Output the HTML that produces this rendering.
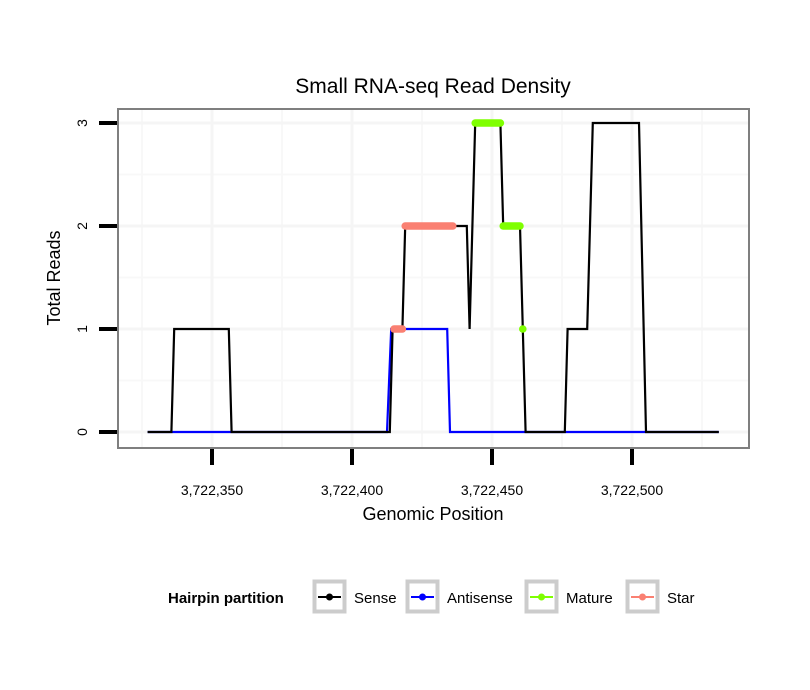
<!DOCTYPE html>
<html><head><meta charset="utf-8"><style>
body{margin:0;background:#fff;}
svg{display:block;font-family:"Liberation Sans",sans-serif;}
</style></head><body>
<svg id="chart" width="810" height="690" viewBox="0 0 810 690" xmlns="http://www.w3.org/2000/svg">
<rect x="0" y="0" width="810" height="690" fill="#fff"/>
<text x="433" y="93" font-size="21" text-anchor="middle">Small RNA-seq Read Density</text>
<g id="grid"></g>
<g id="series"></g>
<rect x="118" y="109" width="631" height="339" fill="none" stroke="#7f7f7f" stroke-width="2"/>
<g id="axes"></g>
<text x="433" y="520" font-size="18" text-anchor="middle">Genomic Position</text>
<text transform="translate(60,278) rotate(-90)" font-size="18" text-anchor="middle">Total Reads</text>
<g>
<text x="168" y="603" font-size="15" font-weight="bold">Hairpin partition</text>
<g>
<rect x="314.5" y="581.5" width="30" height="30" fill="#fff" stroke="#cccccc" stroke-width="4"/>
<line x1="318" y1="597" x2="341" y2="597" stroke="#000" stroke-width="2"/><circle cx="329.5" cy="597" r="3.5" fill="#000"/>
<text x="354" y="603" font-size="15">Sense</text></g>
<g>
<rect x="407.5" y="581.5" width="30" height="30" fill="#fff" stroke="#cccccc" stroke-width="4"/>
<line x1="411" y1="597" x2="434" y2="597" stroke="#0000ff" stroke-width="2"/><circle cx="422.5" cy="597" r="3.5" fill="#0000ff"/>
<text x="447" y="603" font-size="15">Antisense</text></g>
<g>
<rect x="526.5" y="581.5" width="30" height="30" fill="#fff" stroke="#cccccc" stroke-width="4"/>
<line x1="530" y1="597" x2="553" y2="597" stroke="#7fff00" stroke-width="2"/><circle cx="541.5" cy="597" r="3.5" fill="#7fff00"/>
<text x="566" y="603" font-size="15">Mature</text></g>
<g>
<rect x="627.5" y="581.5" width="30" height="30" fill="#fff" stroke="#cccccc" stroke-width="4"/>
<line x1="631" y1="597" x2="654" y2="597" stroke="#fa8072" stroke-width="2"/><circle cx="642.5" cy="597" r="3.5" fill="#fa8072"/>
<text x="667" y="603" font-size="15">Star</text></g>
</g>
</svg>
<script>
const xTicks = [3722350, 3722400, 3722450, 3722500];
const xTickLabels = ["3,722,350", "3,722,400", "3,722,450", "3,722,500"];
const yTicks = [0, 1, 2, 3];
const senseX = [327,335.5,336.5,356,357,413.5,414.5,418,419,441,442,444,453,454,460,462,476,477,484,486,502.5,505,531];
const senseY = [0,0,1,1,0,0,1,1,2,2,1,3,3,2,2,0,0,1,1,3,3,0,0];
const antiX = [327,412.5,414,434,435,531];
const antiY = [0,0,1,1,0,0];
const matureX = [444,445,446,447,448,449,450,451,452,453,454,455,456,457,458,459,460,461];
const matureY = [3,3,3,3,3,3,3,3,3,3,2,2,2,2,2,2,2,1];
const starX = [415,416,417,418,419,420,421,422,423,424,425,426,427,428,429,430,431,432,433,434,435,436];
const starY = [1,1,1,1,2,2,2,2,2,2,2,2,2,2,2,2,2,2,2,2,2,2];
const BASE = 3722000;
const xs = v => 212 + (v - 3722350) * 2.8;
const ys = v => 432 - v * 103;
const NS = "http://www.w3.org/2000/svg";
function mk(tag, attrs, parent){const e=document.createElementNS(NS,tag);for(const k in attrs)e.setAttribute(k,attrs[k]);parent.appendChild(e);return e;}
const grid = document.getElementById('grid');
const axes = document.getElementById('axes');
const series = document.getElementById('series');
for (let i = -1; i < xTicks.length; i++) {
  const v = (i < 0 ? xTicks[0] - 25 : xTicks[i] + 25);
  const l = mk('line',{x1:xs(v),x2:xs(v),y1:110,y2:447,stroke:'#f8f8f8','stroke-width':2},grid);
  
  
}
for (let i = 0; i < yTicks.length - 1; i++) {
  const v = yTicks[i] + 0.5;
  const l = mk('line',{x1:119,x2:748,y1:ys(v),y2:ys(v),stroke:'#f8f8f8','stroke-width':2},grid);
  
  
}
xTicks.forEach((v,i)=>{
  const g = mk('line',{x1:xs(v),x2:xs(v),y1:110,y2:447,stroke:'#f5f5f5','stroke-width':3},grid);
  
  
  const t = mk('line',{x1:xs(v),x2:xs(v),y1:449,y2:465,stroke:'#000','stroke-width':4},axes);
  
  
  const tx = mk('text',{x:xs(v),y:495,'font-size':14,'text-anchor':'middle'},axes);
  tx.textContent = xTickLabels[i];
  
  
});
yTicks.forEach(v=>{
  const g = mk('line',{x1:119,x2:748,y1:ys(v),y2:ys(v),stroke:'#f5f5f5','stroke-width':3},grid);
  
  
  const t = mk('line',{x1:99,x2:117,y1:ys(v),y2:ys(v),stroke:'#000','stroke-width':4},axes);
  
  
  const tx = mk('text',{transform:`translate(87,${ys(v)}) rotate(-90)`,'font-size':14,'text-anchor':'middle'},axes);
  tx.textContent = String(v);
  
  
});
function line(X,Y,color,name){
  const pts = X.map((x,i)=>xs(BASE+x)+','+ys(Y[i])).join(' ');
  const p = mk('polyline',{points:pts,fill:'none',stroke:color,'stroke-width':2.2,'stroke-linejoin':'miter'},series);
  
  
}
function thick(X,Y,color,name){
  let seg=[];
  const flush=()=>{
    if(!seg.length)return;
    let p;
    if(seg.length===1){
      p = mk('circle',{cx:xs(BASE+X[seg[0]]),cy:ys(Y[seg[0]]),r:3.8,fill:color},series);
    } else {
      const pts = seg.map(i=>xs(BASE+X[i])+','+ys(Y[i])).join(' ');
      p = mk('polyline',{points:pts,fill:'none',stroke:color,'stroke-width':7.5,'stroke-linecap':'round'},series);
    }
    
    
    seg=[];
  };
  X.forEach((x,i)=>{
    if(seg.length && (Y[i]!==Y[seg[seg.length-1]] || x-X[seg[seg.length-1]]>1)) flush();
    seg.push(i);
  });
  flush();
}
line(antiX,antiY,'#0000ff','antisense-line');
line(senseX,senseY,'#000000','sense-line');
thick(matureX,matureY,'#7fff00','mature-segment');
thick(starX,starY,'#fa8072','star-segment');
</script>
</body></html>
